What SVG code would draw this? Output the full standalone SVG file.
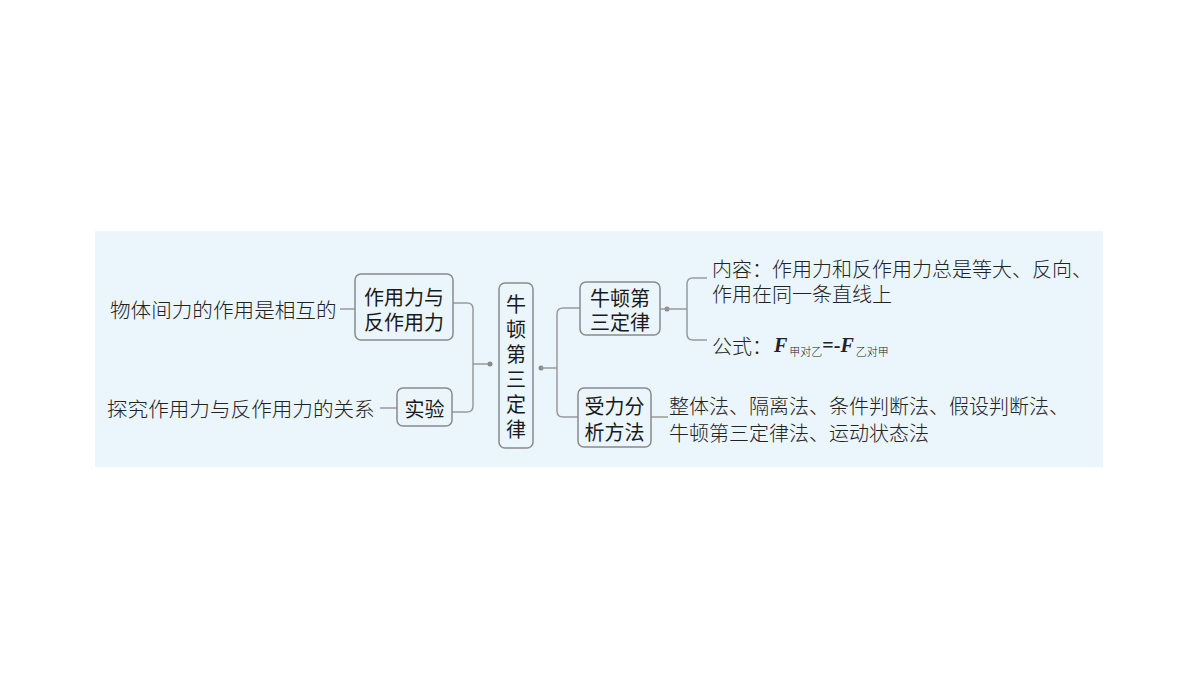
<svg xmlns="http://www.w3.org/2000/svg" width="1200" height="675" viewBox="0 0 1200 675">
<style>
.box{fill:#eaf6fc;stroke:#8a8a8a;stroke-width:1.5}
.bt{font-family:"Noto Sans CJK SC","Noto Sans",sans-serif;font-size:20px;fill:#1a1a1a;text-anchor:middle;dominant-baseline:central}
.lt{font-family:"Noto Sans CJK SC","Noto Sans",sans-serif;font-size:20px;font-weight:300;fill:#222;dominant-baseline:central}
.big{font-size:20.6px}
.con{fill:none;stroke:#9a9a9a;stroke-width:1.5}
.dot{fill:#8a8a8a}
.f{font-family:"Liberation Serif",serif;font-style:italic;font-weight:bold;font-size:20px}
.eq{font-family:"Liberation Serif",serif;font-size:20px;font-weight:bold}
.sub{font-family:"Noto Sans CJK SC",sans-serif;font-size:11px;font-weight:300}
</style>
<rect x="95" y="231" width="1008" height="236" fill="#eaf6fc"/>
<g id="connectors">
<path class="con" d="M340 309 H355"/>
<path class="con" d="M380 408 H397"/>
<path class="con" d="M453 303 H467 Q473 303 473 309 V406 Q473 412 467 412 H452"/>
<path class="con" d="M473 364 H490"/>
<circle class="dot" cx="490" cy="364" r="2.5"/>
<circle class="dot" cx="541" cy="368" r="2.5"/>
<path class="con" d="M541 368 H557"/>
<path class="con" d="M580 308 H563 Q557 308 557 314 V411 Q557 417 563 417 H578"/>
<circle class="dot" cx="667" cy="309" r="2.5"/>
<path class="con" d="M660 309 H687"/>
<path class="con" d="M707 278 H693 Q687 278 687 284 V334 Q687 340 693 340 H707"/>
<path class="con" d="M651 417 H668"/>
</g>
<g id="n-left1"><text class="lt big" x="110" y="309">物体间力的作用是相互的</text></g>
<g id="n-left2"><text class="lt big" x="107" y="408">探究作用力与反作用力的关系</text></g>
<g id="n-zuoyongli">
<rect class="box" x="355" y="274" width="98" height="66" rx="6"/>
<text class="bt" x="404" y="296">作用力与<tspan x="404" dy="25">反作用力</tspan></text>
</g>
<g id="n-shiyan">
<rect class="box" x="397" y="388" width="55" height="38" rx="6"/>
<text class="bt" x="424.5" y="408">实验</text>
</g>
<g id="n-center">
<rect class="box" x="499" y="283" width="34" height="165" rx="6"/>
<text class="bt" x="516" y="303">牛<tspan x="516" dy="25">顿</tspan><tspan x="516" dy="25">第</tspan><tspan x="516" dy="25">三</tspan><tspan x="516" dy="25">定</tspan><tspan x="516" dy="25">律</tspan></text>
</g>
<g id="n-law">
<rect class="box" x="580" y="282" width="80" height="53" rx="6"/>
<text class="bt" x="620" y="297">牛顿第<tspan x="620" dy="24">三定律</tspan></text>
</g>
<g id="n-method">
<rect class="box" x="578" y="388" width="73" height="59" rx="6"/>
<text class="bt" x="614.5" y="405">受力分<tspan x="614.5" dy="26">析方法</tspan></text>
</g>
<g id="n-content">
<text class="lt" x="712" y="268">内容：作用力和反作用力总是等大、反向、<tspan x="712" dy="25">作用在同一条直线上</tspan></text>
</g>
<g id="n-formula">
<text class="lt" x="712" y="345">公式：</text>
<text x="774" y="352" fill="#222"><tspan class="f">F</tspan><tspan class="sub" dx="2" dy="4">甲对乙</tspan><tspan class="eq" dy="-4">=-</tspan><tspan class="f">F</tspan><tspan class="sub" dx="2" dy="4">乙对甲</tspan></text>
</g>
<g id="n-methods">
<text class="lt" x="669" y="405">整体法、隔离法、条件判断法、假设判断法、<tspan x="669" dy="27">牛顿第三定律法、运动状态法</tspan></text>
</g>
</svg>
